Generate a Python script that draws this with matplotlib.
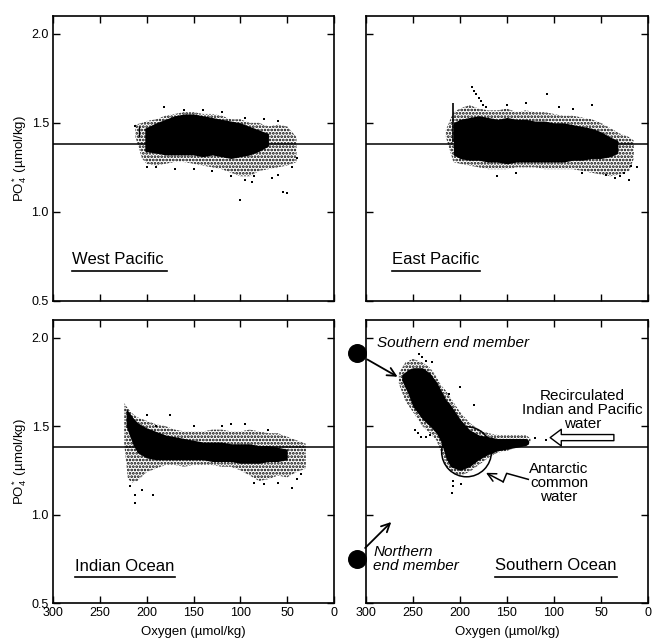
import matplotlib
matplotlib.use("Agg")
import matplotlib.pyplot as plt
from matplotlib.patches import Ellipse
from matplotlib.ticker import FormatStrFormatter

plt.rcParams["font.family"] = ["Liberation Sans", "DejaVu Sans"]
plt.rcParams["mathtext.fontset"] = "custom"
plt.rcParams["mathtext.rm"] = "Liberation Sans"
plt.rcParams["mathtext.it"] = "Liberation Sans:italic"
plt.rcParams["hatch.linewidth"] = 1.3

ref_po4 = 1.38
x_ticks = [300, 250, 200, 150, 100, 50, 0]
y_ticks = [0.5, 1.0, 1.5, 2.0]

# West Pacific: dense core, speckled halo, stray points (oxygen, PO4*)
wp_core_o = [202, 190, 180, 170, 160, 150, 140, 130, 120, 110, 100, 90, 80, 70]
wp_core_hi = [1.47, 1.50, 1.52, 1.54, 1.55, 1.55, 1.54, 1.53, 1.52, 1.51, 1.50, 1.48, 1.46, 1.44]
wp_core_lo = [1.34, 1.33, 1.32, 1.32, 1.32, 1.32, 1.31, 1.32, 1.31, 1.30, 1.31, 1.32, 1.34, 1.37]
wp_halo_o = [212, 205, 200, 190, 180, 170, 160, 150, 140, 130, 120, 110, 100, 90, 80, 70, 60, 50, 40]
wp_halo_hi = [1.49, 1.50, 1.51, 1.52, 1.54, 1.55, 1.56, 1.56, 1.55, 1.55, 1.54, 1.52, 1.52, 1.50, 1.50, 1.48, 1.49, 1.48, 1.42]
wp_halo_lo = [1.42, 1.30, 1.27, 1.26, 1.27, 1.28, 1.28, 1.27, 1.26, 1.25, 1.24, 1.22, 1.20, 1.20, 1.23, 1.24, 1.25, 1.26, 1.28]
wp_dots_o = [182, 160, 140, 120, 95, 75, 60, 200, 190, 150, 110, 95, 85, 60, 45, 40, 100, 54, 50, 213, 170, 130, 88, 66]
wp_dots_p = [1.59, 1.57, 1.57, 1.56, 1.53, 1.52, 1.51, 1.25, 1.25, 1.24, 1.20, 1.18, 1.20, 1.21, 1.25, 1.30, 1.066, 1.11, 1.105, 1.485, 1.24, 1.23, 1.17, 1.19]

# East Pacific
ep_core_o = [207, 200, 190, 180, 170, 160, 150, 140, 130, 120, 110, 100, 90, 80, 70, 60, 50, 40, 32]
ep_core_hi = [1.50, 1.52, 1.53, 1.54, 1.53, 1.52, 1.53, 1.52, 1.52, 1.51, 1.51, 1.50, 1.50, 1.49, 1.48, 1.47, 1.45, 1.42, 1.40]
ep_core_lo = [1.32, 1.30, 1.29, 1.29, 1.28, 1.28, 1.27, 1.28, 1.28, 1.28, 1.28, 1.28, 1.28, 1.29, 1.29, 1.30, 1.30, 1.31, 1.33]
ep_halo_o = [215, 207, 200, 190, 180, 170, 160, 150, 140, 130, 120, 110, 100, 90, 80, 70, 60, 50, 40, 30, 20, 15]
ep_halo_hi = [1.46, 1.56, 1.58, 1.60, 1.58, 1.57, 1.57, 1.58, 1.56, 1.57, 1.56, 1.56, 1.55, 1.54, 1.54, 1.53, 1.52, 1.50, 1.47, 1.44, 1.42, 1.40]
ep_halo_lo = [1.42, 1.28, 1.27, 1.26, 1.25, 1.24, 1.24, 1.24, 1.25, 1.25, 1.25, 1.24, 1.24, 1.24, 1.24, 1.23, 1.22, 1.21, 1.20, 1.21, 1.23, 1.30]
ep_dots_o = [187, 185, 183, 180, 178, 176, 172, 107, 150, 161, 30, 20, 25, 60, 80, 130, 95, 45, 35, 140, 70, 18, 12]
ep_dots_p = [1.70, 1.68, 1.66, 1.64, 1.62, 1.60, 1.59, 1.66, 1.60, 1.20, 1.20, 1.18, 1.22, 1.60, 1.58, 1.61, 1.59, 1.21, 1.19, 1.22, 1.22, 1.26, 1.25]

# Indian Ocean
io_core_o = [222, 215, 210, 200, 190, 180, 170, 160, 150, 140, 130, 120, 110, 100, 90, 80, 70, 60, 50]
io_core_hi = [1.60, 1.55, 1.52, 1.49, 1.47, 1.45, 1.44, 1.43, 1.42, 1.41, 1.41, 1.41, 1.40, 1.40, 1.40, 1.39, 1.39, 1.38, 1.37]
io_core_lo = [1.50, 1.40, 1.35, 1.32, 1.31, 1.31, 1.31, 1.31, 1.31, 1.31, 1.30, 1.30, 1.30, 1.29, 1.29, 1.29, 1.30, 1.30, 1.31]
io_halo_o = [224, 220, 215, 210, 200, 190, 180, 170, 160, 150, 140, 130, 120, 110, 100, 90, 80, 70, 60, 50, 40, 30]
io_halo_hi = [1.63, 1.60, 1.57, 1.55, 1.53, 1.51, 1.50, 1.48, 1.47, 1.47, 1.47, 1.48, 1.48, 1.47, 1.47, 1.48, 1.47, 1.46, 1.46, 1.44, 1.42, 1.40]
io_halo_lo = [1.40, 1.20, 1.18, 1.19, 1.24, 1.26, 1.28, 1.28, 1.27, 1.28, 1.28, 1.28, 1.27, 1.27, 1.25, 1.22, 1.19, 1.20, 1.22, 1.21, 1.24, 1.26]
io_dots_o = [212, 212, 193, 175, 45, 150, 95, 70, 75, 85, 200, 218, 205, 190, 120, 60, 40, 35, 110]
io_dots_p = [1.11, 1.065, 1.11, 1.56, 1.15, 1.50, 1.51, 1.48, 1.17, 1.18, 1.56, 1.16, 1.14, 1.50, 1.50, 1.18, 1.20, 1.23, 1.51]

# Southern Ocean
so_core_o = [262, 255, 250, 240, 232, 225, 220, 215, 210, 200, 190, 180, 170, 160, 150, 140, 130, 127]
so_core_hi = [1.79, 1.82, 1.83, 1.83, 1.80, 1.75, 1.70, 1.65, 1.62, 1.54, 1.48, 1.45, 1.44, 1.43, 1.43, 1.43, 1.43, 1.42]
so_core_lo = [1.76, 1.68, 1.61, 1.54, 1.50, 1.46, 1.41, 1.32, 1.27, 1.25, 1.27, 1.31, 1.34, 1.36, 1.37, 1.38, 1.39, 1.40]
so_halo_o = [265, 258, 250, 240, 232, 225, 220, 215, 210, 200, 190, 180, 170, 160, 150, 140, 130, 125]
so_halo_hi = [1.80, 1.86, 1.88, 1.86, 1.83, 1.78, 1.73, 1.70, 1.66, 1.58, 1.52, 1.48, 1.46, 1.45, 1.45, 1.45, 1.45, 1.43]
so_halo_lo = [1.74, 1.64, 1.58, 1.50, 1.46, 1.42, 1.35, 1.28, 1.24, 1.22, 1.24, 1.28, 1.32, 1.35, 1.36, 1.38, 1.39, 1.41]
so_dots_o = [244, 240, 236, 230, 248, 245, 241, 236, 232, 207, 207, 199, 209, 108, 120, 185, 200, 212]
so_dots_p = [1.91, 1.89, 1.87, 1.86, 1.48, 1.46, 1.44, 1.44, 1.45, 1.19, 1.16, 1.17, 1.12, 1.42, 1.43, 1.62, 1.72, 1.68]

panels = [
    ("West Pacific", [0.0813, 0.529, 0.431, 0.446], wp_core_o, wp_core_hi, wp_core_lo,
     wp_halo_o, wp_halo_hi, wp_halo_lo, wp_dots_o, wp_dots_p, (0.066, 0.144, 0.405, 0.106)),
    ("East Pacific", [0.5613, 0.529, 0.4325, 0.446], ep_core_o, ep_core_hi, ep_core_lo,
     ep_halo_o, ep_halo_hi, ep_halo_lo, ep_dots_o, ep_dots_p, (0.091, 0.144, 0.404, 0.106)),
    ("Indian Ocean", [0.0813, 0.0563, 0.431, 0.443], io_core_o, io_core_hi, io_core_lo,
     io_halo_o, io_halo_hi, io_halo_lo, io_dots_o, io_dots_p, (0.078, 0.128, 0.434, 0.091)),
    ("Southern Ocean", [0.5613, 0.0563, 0.4325, 0.443], so_core_o, so_core_hi, so_core_lo,
     so_halo_o, so_halo_hi, so_halo_lo, so_dots_o, so_dots_p, (0.457, 0.134, 0.890, 0.093)),
]

fig = plt.figure(figsize=(6.52, 6.39), dpi=100)
axes = []
for i, (name, rect, co, chi, clo, ho, hhi, hlo, do, dp, lab) in enumerate(panels):
    ax = fig.add_axes(rect)
    axes.append(ax)
    ax.fill_between(ho, hlo, hhi, facecolor="none", edgecolor="black", hatch=".....", linewidth=0)
    ax.fill_between(co, clo, chi, color="black", linewidth=0)
    ax.scatter(do, dp, s=3, marker="s", color="black", linewidths=0)
    ax.axhline(ref_po4, color="black", lw=1.1)
    ax.set_xlim(300, 0)
    ax.set_ylim(0.5, 2.1)
    ax.set_xticks(x_ticks)
    ax.set_yticks(y_ticks)
    ax.yaxis.set_major_formatter(FormatStrFormatter("%.1f"))
    ax.tick_params(direction="in", top=True, right=True, length=5, width=1,
                   labelsize=9, pad=3, labelbottom=i >= 2, labelleft=i % 2 == 0)
    for s in ax.spines.values():
        s.set_linewidth(1.2)
    x0, ty, x1, uy = lab
    ax.text(x0, ty, name, transform=ax.transAxes, fontsize=12, ha="left", va="center")
    ax.plot([x0, x1], [uy, uy], color="black", lw=1.2, transform=ax.transAxes)
    if i % 2 == 0:
        ax.set_ylabel("PO$_4^*$ (µmol/kg)", fontsize=9.5, labelpad=2)
    if i >= 2:
        ax.set_xlabel("Oxygen (µmol/kg)", fontsize=9.5, labelpad=5)

# small vertical streaks at the left edge of the Pacific clouds
axes[0].vlines(208, 1.42, 1.48, color="black", lw=1)
axes[1].vlines(207.8, 1.39, 1.61, color="black", lw=1.2)

ax = axes[3]
ax.add_patch(Ellipse((193, 1.355), 53, 0.283, facecolor="none", edgecolor="black", lw=1.1))
ax.scatter([309.6, 309.6], [1.915, 0.749], s=160, color="black", clip_on=False, zorder=5)
ax.annotate("", xy=(263.8, 1.771), xytext=(301, 1.884), annotation_clip=False,
            arrowprops=dict(arrowstyle="->,head_length=0.6,head_width=0.3", lw=1.3, color="black"))
ax.annotate("", xy=(271, 0.969), xytext=(303, 0.80), annotation_clip=False,
            arrowprops=dict(arrowstyle="->,head_length=0.6,head_width=0.3", lw=1.3, color="black"))
ax.text(288.6, 1.967, "Southern end member", style="italic", fontsize=11, ha="left", va="center")
ax.text(292.2, 0.749, "Northern\nend member", style="italic", fontsize=11, ha="left", va="center",
        linespacing=1.0)
ax.text(69.5, 1.59, "Recirculated\nIndian and Pacific\nwater", fontsize=11, ha="center",
        va="center", linespacing=1.0)
ax.text(94.7, 1.176, "Antarctic\ncommon\nwater", fontsize=11, ha="center", va="center",
        linespacing=1.0)
ax.annotate("", xy=(107, 1.435), xytext=(33.3, 1.435),
            arrowprops=dict(arrowstyle="simple,head_length=0.4,head_width=0.6,tail_width=0.22",
                            mutation_scale=20, facecolor="white", edgecolor="black", lw=1))
ax.plot([127.3, 150.3, 154], [1.199, 1.233, 1.185], color="black", lw=1.1)
ax.annotate("", xy=(172.3, 1.236), xytext=(154, 1.185),
            arrowprops=dict(arrowstyle="->,head_length=0.6,head_width=0.3", lw=1.1, color="black",
                            shrinkA=0, shrinkB=0))

fig.savefig("out.png", dpi=100)
